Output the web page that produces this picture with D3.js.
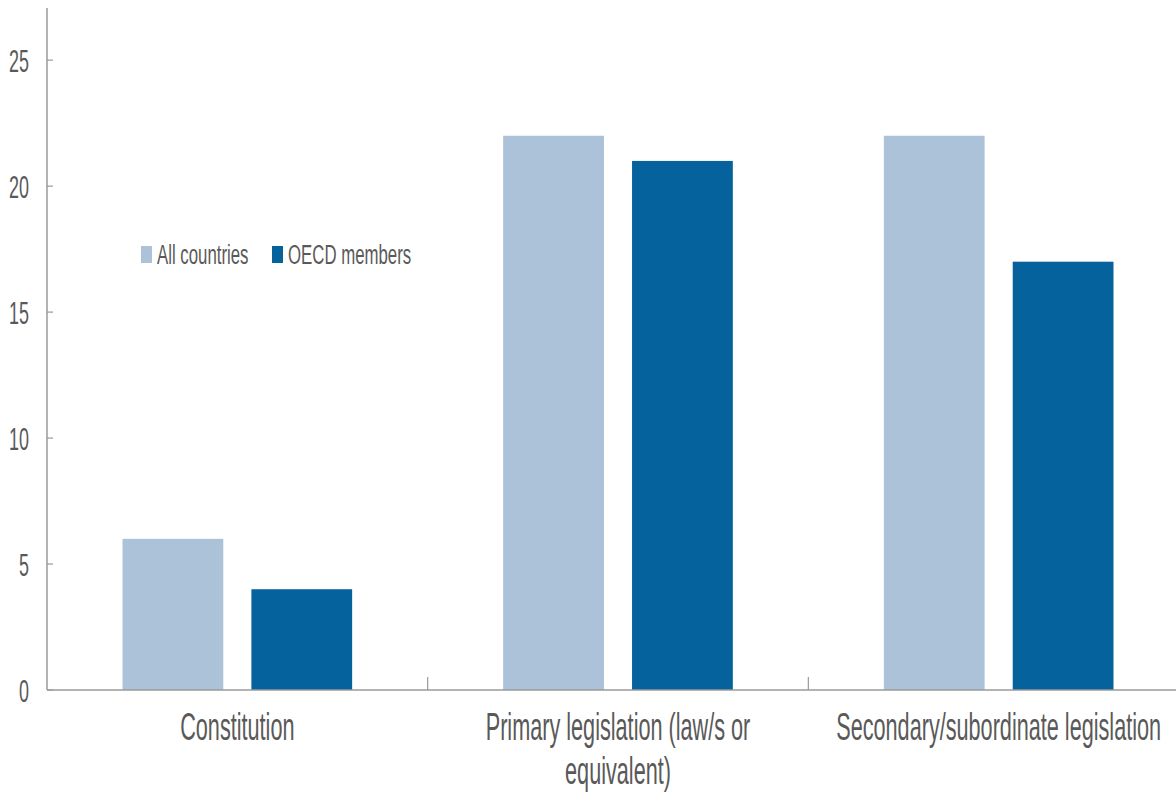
<!DOCTYPE html>
<html>
<head>
<meta charset="utf-8">
<script src="https://cdn.jsdelivr.net/npm/d3@7"></script>
<style>
  html, body { margin: 0; padding: 0; background: #fff; }
  svg { display: block; }
  text { font-family: "Liberation Sans", Arial, sans-serif; fill: #595959; }
</style>
</head>
<body>
<svg id="chart" width="1176" height="792"></svg>
<script>
// ---- data ----
const categories = ["Constitution", "Primary legislation (law/s or equivalent)", "Secondary/subordinate legislation"];
const categoryLines = [["Constitution"], ["Primary legislation (law/s or", "equivalent)"], ["Secondary/subordinate legislation"]];
const seriesNames = ["All countries", "OECD members"];
const allCountries = [6, 22, 22];
const oecdMembers = [4, 21, 17];
const yTicks = [0, 5, 10, 15, 20, 25];
const colors = ["#abc2d9", "#06629c"];

// ---- layout ----
const W = 1176, H = 792;
const margin = { left: 47, top: 8, bottom: 102 };
const plotRight = 1189;

const svg = d3.select("#chart");

const y = d3.scaleLinear().domain([0, 27.07]).range([H - margin.bottom, margin.top]);
const x0 = d3.scaleBand().domain(categories).range([margin.left, plotRight]).paddingInner(0).paddingOuter(0);
const x1 = d3.scaleBand().domain(seriesNames).range([0, x0.bandwidth()]).paddingInner(0.218).paddingOuter(0.586);

const seriesValues = [allCountries, oecdMembers];
const rows = [];
categories.forEach((c, i) => {
  seriesNames.forEach((s, j) => rows.push({ cat: c, series: s, value: seriesValues[j][i], color: colors[j] }));
});

// bars
svg.append("g").selectAll("rect").data(rows).join("rect")
  .attr("x", d => x0(d.cat) + x1(d.series))
  .attr("y", d => y(d.value))
  .attr("width", x1.bandwidth())
  .attr("height", d => y(0) - y(d.value))
  .attr("fill", d => d.color);

const axisColor = "#9a9a9a";
// y axis line
svg.append("line")
  .attr("x1", margin.left).attr("x2", margin.left)
  .attr("y1", y(0)).attr("y2", y(27.07))
  .attr("stroke", axisColor).attr("stroke-width", 1.5);

// y ticks
const yg = svg.append("g");
yTicks.forEach(v => {
  yg.append("line")
    .attr("x1", margin.left).attr("x2", margin.left + 6)
    .attr("y1", y(v)).attr("y2", y(v))
    .attr("stroke", axisColor).attr("stroke-width", 1.2);
  yg.append("text")
    .attr("transform", `translate(29,${y(v)}) scale(0.56,1)`)
    .attr("text-anchor", "end")
    .attr("dy", "0.36em")
    .style("font-size", "32px")
    .text(v);
});

// x axis line
svg.append("line")
  .attr("x1", margin.left).attr("x2", plotRight)
  .attr("y1", y(0)).attr("y2", y(0))
  .attr("stroke", axisColor).attr("stroke-width", 1.5);

// category separators
categories.slice(1).forEach(c => {
  svg.append("line")
    .attr("x1", x0(c)).attr("x2", x0(c))
    .attr("y1", y(0)).attr("y2", y(0) - 13)
    .attr("stroke", axisColor).attr("stroke-width", 1.2);
});

// category labels
categories.forEach((c, i) => {
  const cx = x0(c) + x0.bandwidth() / 2;
  categoryLines[i].forEach((line, k) => {
    svg.append("text")
      .attr("transform", `translate(${cx},${740 + k * 44}) scale(0.57,1)`)
      .attr("text-anchor", "middle")
      .style("font-size", "38px")
      .text(line);
  });
});

// legend
const legendItems = [
  { name: seriesNames[0], color: colors[0], x: 141 },
  { name: seriesNames[1], color: colors[1], x: 272 }
];
legendItems.forEach(it => {
  svg.append("rect")
    .attr("x", it.x).attr("y", 246)
    .attr("width", 11).attr("height", 17)
    .attr("fill", it.color);
  svg.append("text")
    .attr("transform", `translate(${it.x + 16},264) scale(0.6,1)`)
    .style("font-size", "28px")
    .text(it.name);
});
</script>
</body>
</html>
